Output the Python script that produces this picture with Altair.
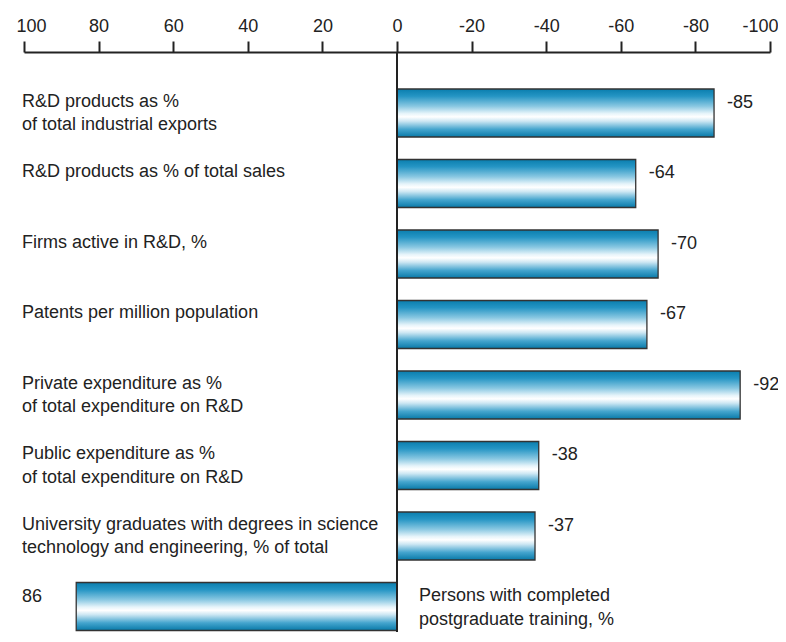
import altair as alt
import pandas as pd

labels = [
    "R&D products as %\nof total industrial exports",
    "R&D products as % of total sales",
    "Firms active in R&D, %",
    "Patents per million population",
    "Private expenditure as %\nof total expenditure on R&D",
    "Public expenditure as %\nof total expenditure on R&D",
    "University graduates with degrees in science\ntechnology and engineering, % of total",
    "Persons with completed\npostgraduate training, %",
]
values = [-85, -64, -70, -67, -92, -38, -37, 86]
ticks = [100, 80, 60, 40, 20, 0, -20, -40, -60, -80, -100]

df = pd.DataFrame({"label": labels, "value": values})

FONT = "Liberation Sans"
INK = "#222222"
W, H = 746, 580

yenc = alt.Y("label:N", sort=labels, axis=None,
             scale=alt.Scale(paddingInner=0.319, paddingOuter=0.273, align=0.961))
xscale = alt.Scale(domain=[-100, 100], reverse=True, nice=False)

gradient = alt.Gradient(
    gradient="linear", x1=0, x2=0, y1=0, y2=1,
    stops=[
        alt.GradientStop(color="#0a7eae", offset=0.0),
        alt.GradientStop(color="#2595c4", offset=0.15),
        alt.GradientStop(color="#8ac8e2", offset=0.36),
        alt.GradientStop(color="#e6f4fa", offset=0.51),
        alt.GradientStop(color="#ffffff", offset=0.58),
        alt.GradientStop(color="#cde7f3", offset=0.67),
        alt.GradientStop(color="#45a5ce", offset=0.84),
        alt.GradientStop(color="#0879a8", offset=1.0),
    ],
)

base = alt.Chart(df).transform_calculate(vlabel="'' + datum.value")

bars = base.mark_bar(color=gradient, stroke="#333333", strokeWidth=1.3).encode(
    x=alt.X("value:Q", scale=xscale, title=None,
            axis=alt.Axis(orient="top", values=ticks, grid=False,
                          domainColor=INK, domainWidth=2,
                          tickColor=INK, tickWidth=2, tickSize=11,
                          labelFont=FONT, labelFontSize=18, labelColor=INK,
                          labelPadding=6, labelFlush=True, labelFlushOffset=8,
                          labelOverlap=False,
                          labelExpr="'' + datum.value")),
    y=yenc,
)

zero = alt.Chart(df).mark_rule(color=INK, strokeWidth=2).encode(x=alt.datum(0))

txt = dict(font=FONT, fontSize=18, color=INK, baseline="alphabetic",
           lineBreak="\n", lineHeight=23.5, align="left")

cat_left = base.transform_filter("datum.value < 0").mark_text(dy=-6, **txt).encode(
    x=alt.value(-2), y=yenc, text="label:N")
val_right = base.transform_filter("datum.value < 0").mark_text(dx=13, dy=-5, **txt).encode(
    x=alt.X("value:Q", scale=xscale), y=yenc, text="vlabel:N")
cat_right = base.transform_filter("datum.value > 0").mark_text(dx=22, dy=-5, **txt).encode(
    x=alt.datum(0), y=yenc, text="label:N")
val_left = base.transform_filter("datum.value > 0").mark_text(dy=-4, **txt).encode(
    x=alt.value(-2), y=yenc, text="vlabel:N")

chart = alt.layer(bars, zero, cat_left, val_right, cat_right, val_left).properties(
    width=W, height=H,
    autosize=alt.AutoSizeParams(type="none"),
    padding={"left": 16, "top": 44, "right": 8, "bottom": 0},
    background="white",
).configure_view(stroke=None)

chart.save("out.html", embed_options={"renderer": "svg", "actions": False})
